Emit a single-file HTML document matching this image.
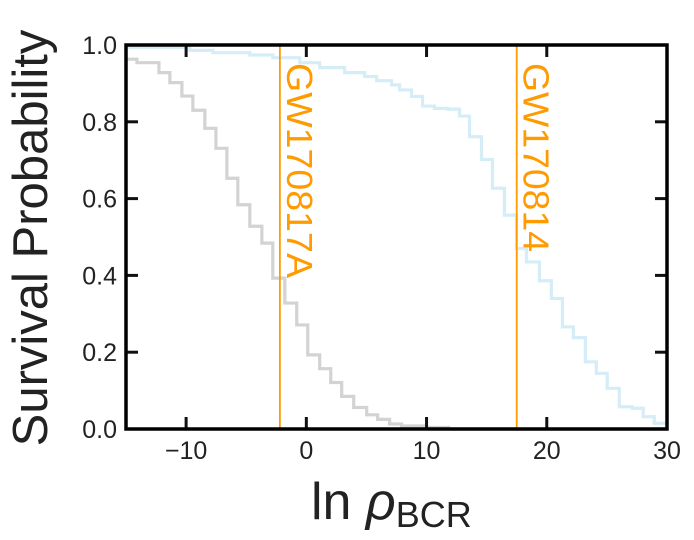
<!DOCTYPE html>
<html><head><meta charset="utf-8"><style>
html,body{margin:0;padding:0;background:#fff;}
svg{display:block;font-family:"Liberation Sans","DejaVu Sans",sans-serif;}
</style></head><body>
<svg id="chart" width="694" height="540" viewBox="0 0 694 540" xmlns="http://www.w3.org/2000/svg">
<g id="marks"></g>
<g id="axes"></g>
<text transform="translate(47,238) rotate(-90)" text-anchor="middle" font-size="49" fill="#222">Survival Probability</text>
<text x="311" y="519" font-size="52" fill="#222">ln <tspan font-style="italic">ρ</tspan><tspan font-size="36" dy="8">BCR</tspan></text>
</svg>
<script>
const xTicks = [-10, 0, 10, 20, 30];
const yTicks = [0.0, 0.2, 0.4, 0.6, 0.8, 1.0];
const yTickLabels = ["0.0", "0.2", "0.4", "0.6", "0.8", "1.0"];
const grayEdges = [-15,-14.09,-12.26,-11.35,-10.35,-9.44,-8.44,-7.52,-6.61,-5.70,-4.70,-3.70,-2.79,-1.79,-0.80,0.12,1.11,2.03,2.94,3.94,5.02,5.93,6.93,7.92,9.83,11.83];
const grayValues = [.963,.954,.928,.902,.867,.83,.783,.731,.653,.584,.528,.484,.393,.328,.271,.193,.157,.121,.085,.056,.037,.025,.013,.008,.004];
const blueEdges = [-15,-9.68,-7.77,-4.70,-2.79,-0.55,1.11,3.19,4.85,5.85,7.09,7.76,8.75,9.67,10.66,11.74,12.74,13.57,14.57,15.48,16.48,17.48,18.31,19.39,20.38,21.30,22.21,23.21,24.12,25.03,26.03,27.11,28.02,28.94,30];
const blueValues = [.994,.986,.98,.974,.967,.954,.941,.928,.918,.907,.896,.883,.866,.841,.835,.833,.815,.761,.702,.627,.557,.470,.435,.386,.340,.266,.238,.175,.145,.106,.058,.054,.032,.015];
const eventNames = ["GW170817A", "GW170814"];
const eventValues = [-2.2, 17.5];
const eventLengths = [215, 189];

const L=126,R=667,T=45,B=429, XMIN=-15, XMAX=30;
const NS="http://www.w3.org/2000/svg";
function xs(v){return L+(v-XMIN)/(XMAX-XMIN)*(R-L);}
function ys(v){return B-v*(B-T);}
function mk(tag,attrs,parent){const e=document.createElementNS(NS,tag);for(const k in attrs)e.setAttribute(k,attrs[k]);parent.appendChild(e);return e;}
const marks=document.getElementById('marks'), axes=document.getElementById('axes');
function stepPath(edges,vals){
  let d="M"+xs(edges[0])+","+ys(vals[0]);
  for(let i=0;i<vals.length;i++){
    d+=" L"+xs(edges[i+1])+","+ys(vals[i]);
    if(i+1<vals.length) d+=" L"+xs(edges[i+1])+","+ys(vals[i+1]);
  }
  d+=" L"+xs(edges[edges.length-1])+","+ys(0)+" L"+xs(XMAX)+","+ys(0);
  return d;
}
const gp=mk('path',{d:stepPath(grayEdges,grayValues),fill:'none',stroke:'#d3d3d3','stroke-width':3.2},marks);


const bp=mk('path',{d:stepPath(blueEdges,blueValues),fill:'none',stroke:'#d5edf7','stroke-width':3.2},marks);


for(let i=0;i<eventValues.length;i++){
  const x=xs(eventValues[i]);
  const ln=mk('line',{x1:x,x2:x,y1:T,y2:B,stroke:'#ff9a00','stroke-width':1.8},marks);
  
  
  const tx=mk('text',{x:x+7,y:63,transform:'rotate(90,'+(x+7)+',63)','font-size':36,fill:'#ff9a00',textLength:eventLengths[i],lengthAdjust:'spacingAndGlyphs'},marks);
  tx.textContent=eventNames[i];
  
  
}
// ticks
for(const v of xTicks){
  const x=xs(v);
  if(v<XMAX){
    const t1=mk('line',{x1:x,x2:x,y1:B,y2:B-12,stroke:'#111','stroke-width':3},axes);
    
    
    const t2=mk('line',{x1:x,x2:x,y1:T,y2:T+12,stroke:'#111','stroke-width':3},axes);
    
    
  }
  const lb=mk('text',{x:x,y:459,'text-anchor':'middle','font-size':25,fill:'#222'},axes);
  lb.textContent=(v<0?'\u2212'+Math.abs(v):String(v));
  
  
}
yTicks.forEach((v,i)=>{
  const y=ys(v);
  if(v>0&&v<1){
    const t1=mk('line',{x1:L,x2:L+12,y1:y,y2:y,stroke:'#111','stroke-width':3},axes);
    
    
    const t2=mk('line',{x1:R,x2:R-12,y1:y,y2:y,stroke:'#111','stroke-width':3},axes);
    
    
  }
  const lb=mk('text',{x:117,y:y+9,'text-anchor':'end','font-size':25,fill:'#222'},axes);
  lb.textContent=yTickLabels[i];
  
  
});
const fr=mk('rect',{x:L,y:T,width:R-L,height:B-T,fill:'none',stroke:'#000','stroke-width':3.5},axes);


</script>
</body></html>
